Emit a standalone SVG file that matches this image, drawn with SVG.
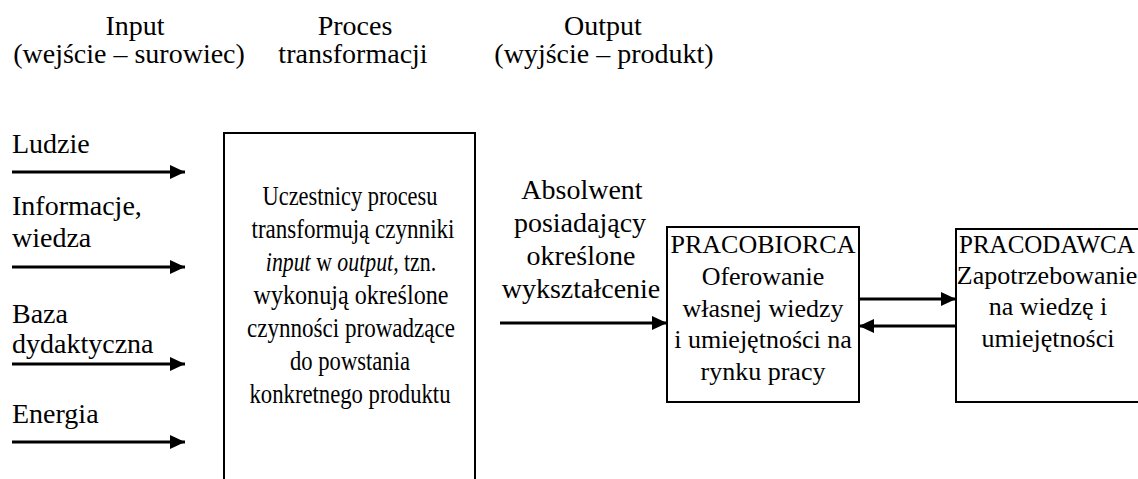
<svg xmlns="http://www.w3.org/2000/svg" width="1138" height="479" viewBox="0 0 1138 479">
<style>
text{font-family:"Liberation Serif","Times New Roman",serif;fill:#000}
.h{font-size:28px}
.l{font-size:28px}
.b{font-size:26px;text-anchor:middle}
.m{font-size:28px;text-anchor:middle}
.i{font-style:italic}
.c{text-anchor:middle}
.box{fill:#fff;stroke:#000;stroke-width:2}
.arr{stroke:#000;stroke-width:3;fill:none;marker-end:url(#ah)}
</style>
<defs>
<marker id="ah" markerUnits="userSpaceOnUse" markerWidth="16" markerHeight="14" refX="15" refY="7" orient="auto">
<path d="M0,0 L15,7 L0,14 Z" fill="#000"/>
</marker>
</defs>
<g id="headers">
<text class="h c" x="135" y="35">Input</text>
<text class="h c" x="129" y="63">(wejście – surowiec)</text>
<text class="h c" x="355" y="35">Proces</text>
<text class="h c" x="353" y="63">transformacji</text>
<text class="h c" x="603" y="35">Output</text>
<text class="h c" x="604" y="63">(wyjście – produkt)</text>
</g>
<g id="inputs">
<text class="l" x="12" y="153">Ludzie</text>
<text class="l" x="12" y="215">Informacje,</text>
<text class="l" x="12" y="247">wiedza</text>
<text class="l" x="12" y="323">Baza</text>
<text class="l" x="12" y="353">dydaktyczna</text>
<text class="l" x="12" y="423">Energia</text>
</g>
<g id="process">
<rect class="box" x="224" y="133" width="251" height="360"/>
<text class="m" x="350" y="205" textLength="175" lengthAdjust="spacingAndGlyphs">Uczestnicy procesu</text>
<text class="m" x="353" y="238" textLength="203" lengthAdjust="spacingAndGlyphs">transformują czynniki</text>
<text class="m" transform="translate(351,271) scale(0.78,1)"><tspan class="i">input</tspan> w <tspan class="i">output</tspan>, tzn.</text>
<text class="m" x="351" y="304" textLength="195" lengthAdjust="spacingAndGlyphs">wykonują określone</text>
<text class="m" x="351" y="337" textLength="208" lengthAdjust="spacingAndGlyphs">czynności prowadzące</text>
<text class="m" x="350" y="370" textLength="120" lengthAdjust="spacingAndGlyphs">do powstania</text>
<text class="m" x="350" y="403" textLength="201" lengthAdjust="spacingAndGlyphs">konkretnego produktu</text>
</g>
<g id="graduate">
<text class="h c" x="582" y="199">Absolwent</text>
<text class="h c" x="580" y="232">posiadający</text>
<text class="h c" x="581" y="265">określone</text>
<text class="h c" x="581" y="298">wykształcenie</text>
</g>
<g id="employee">
<rect class="box" x="667" y="227" width="192" height="175"/>
<text class="b" x="763" y="253">PRACOBIORCA</text>
<text class="b" x="763" y="285">Oferowanie</text>
<text class="b" x="763" y="317">własnej wiedzy</text>
<text class="b" x="763" y="348">i umiejętności na</text>
<text class="b" x="763" y="380">rynku pracy</text>
</g>
<g id="employer">
<rect class="box" x="956" y="229" width="200" height="173"/>
<text x="959" y="253" font-size="25">PRACODAWCA</text>
<text class="b" x="1047" y="284">Zapotrzebowanie</text>
<text class="b" x="1048" y="315">na wiedzę i</text>
<text class="b" x="1048" y="347">umiejętności</text>
</g>
<g id="connectors">
<line class="arr" x1="12" y1="172" x2="185" y2="172"/>
<line class="arr" x1="12" y1="267" x2="185" y2="267"/>
<line class="arr" x1="12" y1="364" x2="185" y2="364"/>
<line class="arr" x1="12" y1="442" x2="185" y2="442"/>
<line class="arr" x1="500" y1="323" x2="667" y2="323"/>
<line class="arr" x1="859" y1="299" x2="956" y2="299"/>
<line class="arr" x1="956" y1="326" x2="859" y2="326"/>
</g>
</svg>
